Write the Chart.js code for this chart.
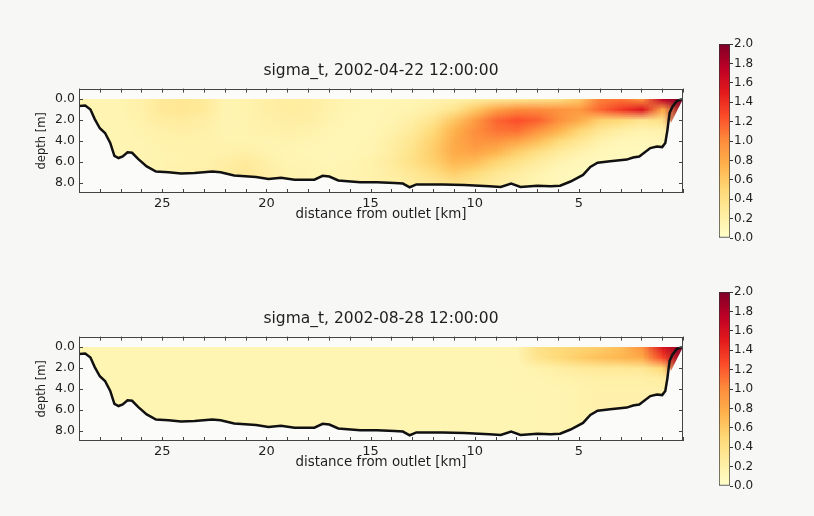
<!DOCTYPE html>
<html><head><meta charset="utf-8">
<script src="https://cdn.jsdelivr.net/npm/chart.js@4.4.1/dist/chart.umd.min.js"></script>
<style>
html,body{margin:0;padding:0;background:#f7f8f6;width:814px;height:516px;overflow:hidden;position:relative;}
canvas{position:absolute;}
</style></head><body>
<canvas id="p1" style="left:30px;top:55px;width:702px;height:171px" width="702" height="171"></canvas>
<canvas id="p2" style="left:30px;top:303px;width:702px;height:171px" width="702" height="171"></canvas>
<canvas id="cb1" style="left:719px;top:34px;width:60px;height:214px" width="60" height="214"></canvas>
<canvas id="cb2" style="left:719px;top:282px;width:60px;height:214px" width="60" height="214"></canvas>
<script>
// ---------------- DATA ----------------
const titles = ['sigma_t, 2002-04-22 12:00:00', 'sigma_t, 2002-08-28 12:00:00'];
const xAxisTitle = 'distance from outlet [km]';
const yAxisTitle = 'depth [m]';

// grid columns (km from outlet) and rows (depth, m)
const fieldKm = [29,28,27,26,25,24,23,22,21,20,19,18,17,16,15,14,13,12,11,10,9,8,7,6,5,4,3,2,1,0];
const fieldDepth = [0,1,2,3,4,5,6,7,8,9];

// sigma_t values, one row per depth, columns follow fieldKm
const sigmaApril = [
  [0.14,0.14,0.15,0.20,0.30,0.32,0.28,0.15,0.17,0.22,0.25,0.24,0.18,0.14,0.13,0.13,0.14,0.16,0.20,0.25,0.30,0.34,0.36,0.42,0.60,1.05,1.10,0.95,1.75,1.98],
  [0.14,0.14,0.15,0.20,0.30,0.32,0.28,0.15,0.17,0.22,0.25,0.24,0.18,0.14,0.13,0.14,0.16,0.22,0.35,0.60,0.85,1.00,1.00,0.95,0.92,1.15,1.35,1.55,0.80,1.95],
  [0.14,0.14,0.14,0.18,0.25,0.26,0.22,0.15,0.16,0.20,0.22,0.22,0.16,0.13,0.13,0.15,0.22,0.36,0.62,0.90,1.15,1.25,1.18,0.98,0.80,0.55,0.48,0.35,0.40,1.90],
  [0.14,0.14,0.14,0.16,0.20,0.22,0.20,0.15,0.16,0.18,0.20,0.18,0.14,0.13,0.13,0.18,0.28,0.48,0.75,0.98,1.10,1.12,0.95,0.75,0.52,0.32,0.22,0.16,0.18,0.50],
  [0.14,0.14,0.14,0.15,0.18,0.18,0.18,0.16,0.16,0.15,0.16,0.15,0.13,0.13,0.14,0.22,0.34,0.55,0.80,0.95,0.95,0.85,0.68,0.48,0.32,0.18,0.12,0.10,0.12,0.20],
  [0.14,0.14,0.14,0.15,0.16,0.17,0.17,0.18,0.20,0.16,0.14,0.13,0.12,0.13,0.15,0.24,0.38,0.58,0.80,0.85,0.75,0.58,0.42,0.28,0.18,0.11,0.09,0.09,0.10,0.15],
  [0.14,0.14,0.14,0.15,0.16,0.17,0.18,0.22,0.28,0.20,0.15,0.14,0.13,0.14,0.18,0.27,0.40,0.55,0.72,0.68,0.52,0.38,0.26,0.16,0.11,0.09,0.08,0.08,0.09,0.15],
  [0.14,0.14,0.14,0.15,0.16,0.18,0.20,0.25,0.30,0.22,0.16,0.15,0.14,0.15,0.18,0.24,0.32,0.44,0.58,0.48,0.34,0.25,0.17,0.11,0.09,0.08,0.08,0.08,0.09,0.15],
  [0.14,0.14,0.14,0.15,0.16,0.18,0.20,0.25,0.30,0.22,0.16,0.15,0.14,0.15,0.18,0.20,0.26,0.32,0.40,0.32,0.25,0.19,0.14,0.10,0.08,0.08,0.08,0.08,0.09,0.15],
  [0.14,0.14,0.14,0.15,0.16,0.18,0.20,0.25,0.30,0.22,0.16,0.15,0.14,0.15,0.18,0.20,0.26,0.32,0.40,0.32,0.25,0.19,0.14,0.10,0.08,0.08,0.08,0.08,0.09,0.15]
];
const sigmaAugust = [
  [0.14,0.14,0.14,0.14,0.14,0.14,0.14,0.14,0.14,0.14,0.14,0.14,0.14,0.14,0.14,0.14,0.14,0.14,0.14,0.14,0.14,0.15,0.40,0.48,0.52,0.58,0.68,0.95,1.55,1.97],
  [0.14,0.14,0.14,0.14,0.14,0.14,0.14,0.14,0.14,0.14,0.14,0.14,0.14,0.14,0.14,0.14,0.14,0.14,0.14,0.14,0.14,0.15,0.36,0.48,0.58,0.66,0.72,0.80,1.30,1.95],
  [0.14,0.14,0.14,0.14,0.14,0.14,0.14,0.14,0.14,0.14,0.14,0.14,0.14,0.14,0.14,0.14,0.14,0.14,0.14,0.14,0.14,0.14,0.18,0.22,0.28,0.30,0.30,0.32,0.50,1.85],
  [0.14,0.14,0.14,0.14,0.14,0.14,0.14,0.14,0.14,0.14,0.14,0.14,0.14,0.14,0.14,0.14,0.14,0.14,0.14,0.14,0.14,0.14,0.15,0.17,0.19,0.21,0.21,0.21,0.24,0.40],
  [0.14,0.14,0.14,0.14,0.14,0.14,0.14,0.14,0.14,0.14,0.14,0.14,0.14,0.14,0.14,0.14,0.14,0.14,0.14,0.14,0.14,0.14,0.14,0.15,0.17,0.19,0.19,0.19,0.19,0.20],
  [0.14,0.14,0.14,0.14,0.14,0.14,0.14,0.14,0.14,0.14,0.14,0.14,0.14,0.14,0.14,0.14,0.14,0.14,0.14,0.14,0.14,0.14,0.14,0.15,0.17,0.19,0.19,0.19,0.19,0.20],
  [0.14,0.14,0.14,0.14,0.14,0.14,0.14,0.14,0.14,0.14,0.14,0.14,0.14,0.14,0.14,0.14,0.14,0.14,0.14,0.14,0.14,0.14,0.14,0.15,0.17,0.19,0.19,0.19,0.19,0.20],
  [0.14,0.14,0.14,0.14,0.14,0.14,0.14,0.14,0.14,0.14,0.14,0.14,0.14,0.14,0.14,0.14,0.14,0.14,0.14,0.14,0.14,0.14,0.14,0.15,0.17,0.19,0.19,0.19,0.19,0.20],
  [0.14,0.14,0.14,0.14,0.14,0.14,0.14,0.14,0.14,0.14,0.14,0.14,0.14,0.14,0.14,0.14,0.14,0.14,0.14,0.14,0.14,0.14,0.14,0.15,0.17,0.19,0.19,0.19,0.19,0.20],
  [0.14,0.14,0.14,0.14,0.14,0.14,0.14,0.14,0.14,0.14,0.14,0.14,0.14,0.14,0.14,0.14,0.14,0.14,0.14,0.14,0.14,0.14,0.14,0.15,0.17,0.19,0.19,0.19,0.19,0.20]
];

// bottom profile (km, depth)
const bathyKm    = [29.0,28.7,28.45,28.25,28.0,27.75,27.5,27.3,27.1,26.9,26.67,26.45,26.15,25.75,25.3,24.7,24.1,23.45,22.6,22.2,21.55,20.5,19.9,19.3,18.65,17.7,17.3,16.98,16.55,15.5,14.7,13.85,13.45,13.12,12.8,11.55,10.5,9.3,8.75,8.25,7.8,7.0,6.35,5.9,5.4,4.8,4.45,4.1,3.5,2.7,2.4,2.1,1.57,1.25,1.0,0.85,0.75,0.64,0.5,0.3,0.05];
const bathyDepth = [0.67,0.62,1.0,1.9,2.8,3.25,4.2,5.45,5.65,5.5,5.1,5.15,5.75,6.45,6.95,7.02,7.13,7.08,6.95,7.02,7.33,7.47,7.65,7.53,7.72,7.72,7.35,7.42,7.8,7.98,7.97,8.05,8.1,8.45,8.18,8.18,8.23,8.36,8.42,8.1,8.42,8.3,8.36,8.3,7.9,7.27,6.5,6.1,5.95,5.8,5.6,5.5,4.7,4.55,4.6,4.2,3.0,1.3,0.7,0.2,0.0];
// dark wedge of data cells at the outlet
const wedgeKm    = [0.95,0.58,0.0];
const wedgeDepth = [0.0,2.3,0.0];

const xLabelTicks = [25,20,15,10,5];
const yTicks = [0,2,4,6,8];
const cbTicks = [0,0.2,0.4,0.6,0.8,1.0,1.2,1.4,1.6,1.8,2.0];

// ---------------- STYLE ----------------
const FONT = 'DejaVu Sans';
const TXT = '#1e1e1e';
const cmapStops = ['#ffffcc','#ffeda0','#fed976','#feb24c','#fd8d3c','#fc4e2a','#e31a1c','#bd0026','#800026'];
const VMIN = 0, VMAX = 2;
function hex(h){return [parseInt(h.slice(1,3),16),parseInt(h.slice(3,5),16),parseInt(h.slice(5,7),16)];}
const stopsRgb = cmapStops.map(hex);
function cmap(v){
  let t = (v-VMIN)/(VMAX-VMIN); t = Math.max(0,Math.min(1,t));
  const p = t*(stopsRgb.length-1); const i = Math.min(Math.floor(p), stopsRgb.length-2); const f = p-i;
  const a = stopsRgb[i], b = stopsRgb[i+1];
  return [a[0]+(b[0]-a[0])*f, a[1]+(b[1]-a[1])*f, a[2]+(b[2]-a[2])*f];
}

function makeFieldPlugin(grid){
  return {
    id:'field',
    beforeDraw(chart){
      const {ctx, chartArea:a} = chart;
      ctx.save(); ctx.fillStyle = '#fbfcfa'; ctx.fillRect(a.left,a.top,a.width,a.height); ctx.restore();
    },
    beforeDatasetsDraw(chart){
      const {ctx, chartArea:a, scales:{x,y}} = chart;
      const nr = grid.length, nc = grid[0].length;
      const off = document.createElement('canvas'); off.width = nc; off.height = nr;
      const octx = off.getContext('2d'); const img = octx.createImageData(nc,nr);
      for(let r=0;r<nr;r++) for(let c=0;c<nc;c++){
        const col = cmap(grid[r][c]); const k = (r*nc+c)*4;
        img.data[k]=Math.round(col[0]); img.data[k+1]=Math.round(col[1]); img.data[k+2]=Math.round(col[2]); img.data[k+3]=255;
      }
      octx.putImageData(img,0,0);
      const k0 = fieldKm[0] - (fieldKm[1]-fieldKm[0])/2;
      const k1 = fieldKm[nc-1] + (fieldKm[nc-1]-fieldKm[nc-2])/2;
      const d0 = fieldDepth[0] - (fieldDepth[1]-fieldDepth[0])/2;
      const d1 = fieldDepth[nr-1] + (fieldDepth[nr-1]-fieldDepth[nr-2])/2;
      const X0 = x.getPixelForValue(k0), X1 = x.getPixelForValue(k1);
      const Y0 = y.getPixelForValue(d0), Y1 = y.getPixelForValue(d1);
      const drawClipped = (ks, ds, closeAtSurface) => {
        ctx.save();
        ctx.beginPath(); ctx.rect(a.left,a.top,a.width,a.height); ctx.clip();
        ctx.beginPath();
        if (closeAtSurface) ctx.moveTo(x.getPixelForValue(ks[0]), y.getPixelForValue(0));
        ks.forEach((k,i)=>{ const px=x.getPixelForValue(k), py=y.getPixelForValue(ds[i]); if(i===0 && !closeAtSurface) ctx.moveTo(px,py); else ctx.lineTo(px,py); });
        if (closeAtSurface) ctx.lineTo(x.getPixelForValue(ks[ks.length-1]), y.getPixelForValue(0));
        ctx.closePath(); ctx.clip();
        ctx.imageSmoothingEnabled = true;
        ctx.drawImage(off, X0, Y0, X1-X0, Y1-Y0);
        ctx.restore();
      };
      drawClipped(bathyKm, bathyDepth, true);
      drawClipped(wedgeKm, wedgeDepth, false);
    },
    afterDatasetsDraw(chart){
      const {ctx, chartArea:a, scales:{x,y}} = chart;
      ctx.save(); ctx.strokeStyle='#444'; ctx.lineWidth=1;
      ctx.strokeRect(Math.round(a.left)+0.5, Math.round(a.top)+0.5, Math.round(a.width)-1, Math.round(a.height)-1);
      ctx.beginPath();
      x.ticks.forEach(t=>{ const px=Math.round(x.getPixelForValue(t.value))+0.5; ctx.moveTo(px,a.bottom); ctx.lineTo(px,a.bottom-4); ctx.moveTo(px,a.top); ctx.lineTo(px,a.top+4); });
      y.ticks.forEach(t=>{ const py=Math.round(y.getPixelForValue(t.value))+0.5; ctx.moveTo(a.left,py); ctx.lineTo(a.left+4,py); ctx.moveTo(a.right,py); ctx.lineTo(a.right-4,py); });
      ctx.stroke(); ctx.restore();
    }
  };
}

function makePanel(id, title, grid){
  return new Chart(document.getElementById(id), {
    type:'line',
    data:{datasets:[{
      data: bathyKm.map((k,i)=>({x:k, y:bathyDepth[i]})),
      borderColor:'#111', borderWidth:2.5, pointRadius:0, tension:0, fill:false
    }]},
    options:{
      responsive:false, animation:false, events:[],
      layout:{padding:0},
      plugins:{
        legend:{display:false}, tooltip:{enabled:false},
        title:{display:true, text:title, color:TXT, font:{family:FONT, size:15.5, weight:'normal', lineHeight:1.2}, padding:{top:7,bottom:8}}
      },
      scales:{
        x:{type:'linear', reverse:true, min:0, max:29,
           afterBuildTicks(s){ const t=[]; for(let v=0; v<=29; v++) t.push({value:v}); s.ticks=t; },
           ticks:{autoSkip:false, maxRotation:0, padding:3, color:TXT, font:{family:FONT,size:13},
                  callback:(v)=> xLabelTicks.includes(v) ? String(v) : ''},
           grid:{display:false, drawTicks:false}, border:{display:false},
           title:{display:true, text:xAxisTitle, color:TXT, font:{family:FONT,size:13.4}, padding:{top:0,bottom:3}},
           afterFit(s){ s.height = 33; }},
        y:{type:'linear', reverse:true, min:-1, max:9, position:'left',
           afterBuildTicks(s){ s.ticks = yTicks.map(v=>({value:v})); },
           ticks:{padding:4, color:TXT, font:{family:FONT,size:12.5}, callback:(v)=>Number(v).toFixed(1)},
           grid:{display:false, drawTicks:false}, border:{display:false},
           title:{display:true, text:yAxisTitle, color:TXT, font:{family:FONT,size:11.5}, padding:{top:5,bottom:0}},
           afterFit(s){ s.width = 49; }},
        y2:{type:'linear', reverse:true, min:-1, max:9, position:'right',
           ticks:{display:false}, grid:{display:false, drawTicks:false}, border:{display:false},
           afterFit(s){ s.width = 49; }}
      }
    },
    plugins:[makeFieldPlugin(grid)]
  });
}

function makeColorbar(id){
  return new Chart(document.getElementById(id), {
    type:'bar',
    data:{labels:['sigma_t'], datasets:[{
      data:[[VMIN, VMAX]],
      backgroundColor(c){
        const ch = c.chart; const a = ch.chartArea; if(!a) return cmapStops[0];
        const ys = ch.scales.y;
        const g = ch.ctx.createLinearGradient(0, ys.getPixelForValue(VMIN), 0, ys.getPixelForValue(VMAX));
        cmapStops.forEach((col,i)=> g.addColorStop(i/(cmapStops.length-1), col));
        return g;
      },
      borderColor:'#333', borderWidth:1, borderSkipped:false,
      barPercentage:1, categoryPercentage:1
    }]},
    options:{
      responsive:false, animation:false, events:[],
      layout:{padding:{top:10,bottom:10,left:0,right:0}},
      plugins:{legend:{display:false}, tooltip:{enabled:false}},
      scales:{
        x:{display:false},
        y:{position:'right', min:VMIN, max:VMAX,
           afterBuildTicks(s){ s.ticks = cbTicks.map(v=>({value:v})); },
           ticks:{padding:1, color:TXT, font:{family:FONT,size:12}, callback:(v)=>Number(v).toFixed(1)},
           grid:{display:true, drawOnChartArea:false, drawTicks:true, tickLength:3, color:'#333'},
           border:{display:false},
           afterFit(s){ s.width = 49; }}
      }
    }
  });
}

makePanel('p1', titles[0], sigmaApril);
makePanel('p2', titles[1], sigmaAugust);
makeColorbar('cb1');
makeColorbar('cb2');
</script>
</body></html>
